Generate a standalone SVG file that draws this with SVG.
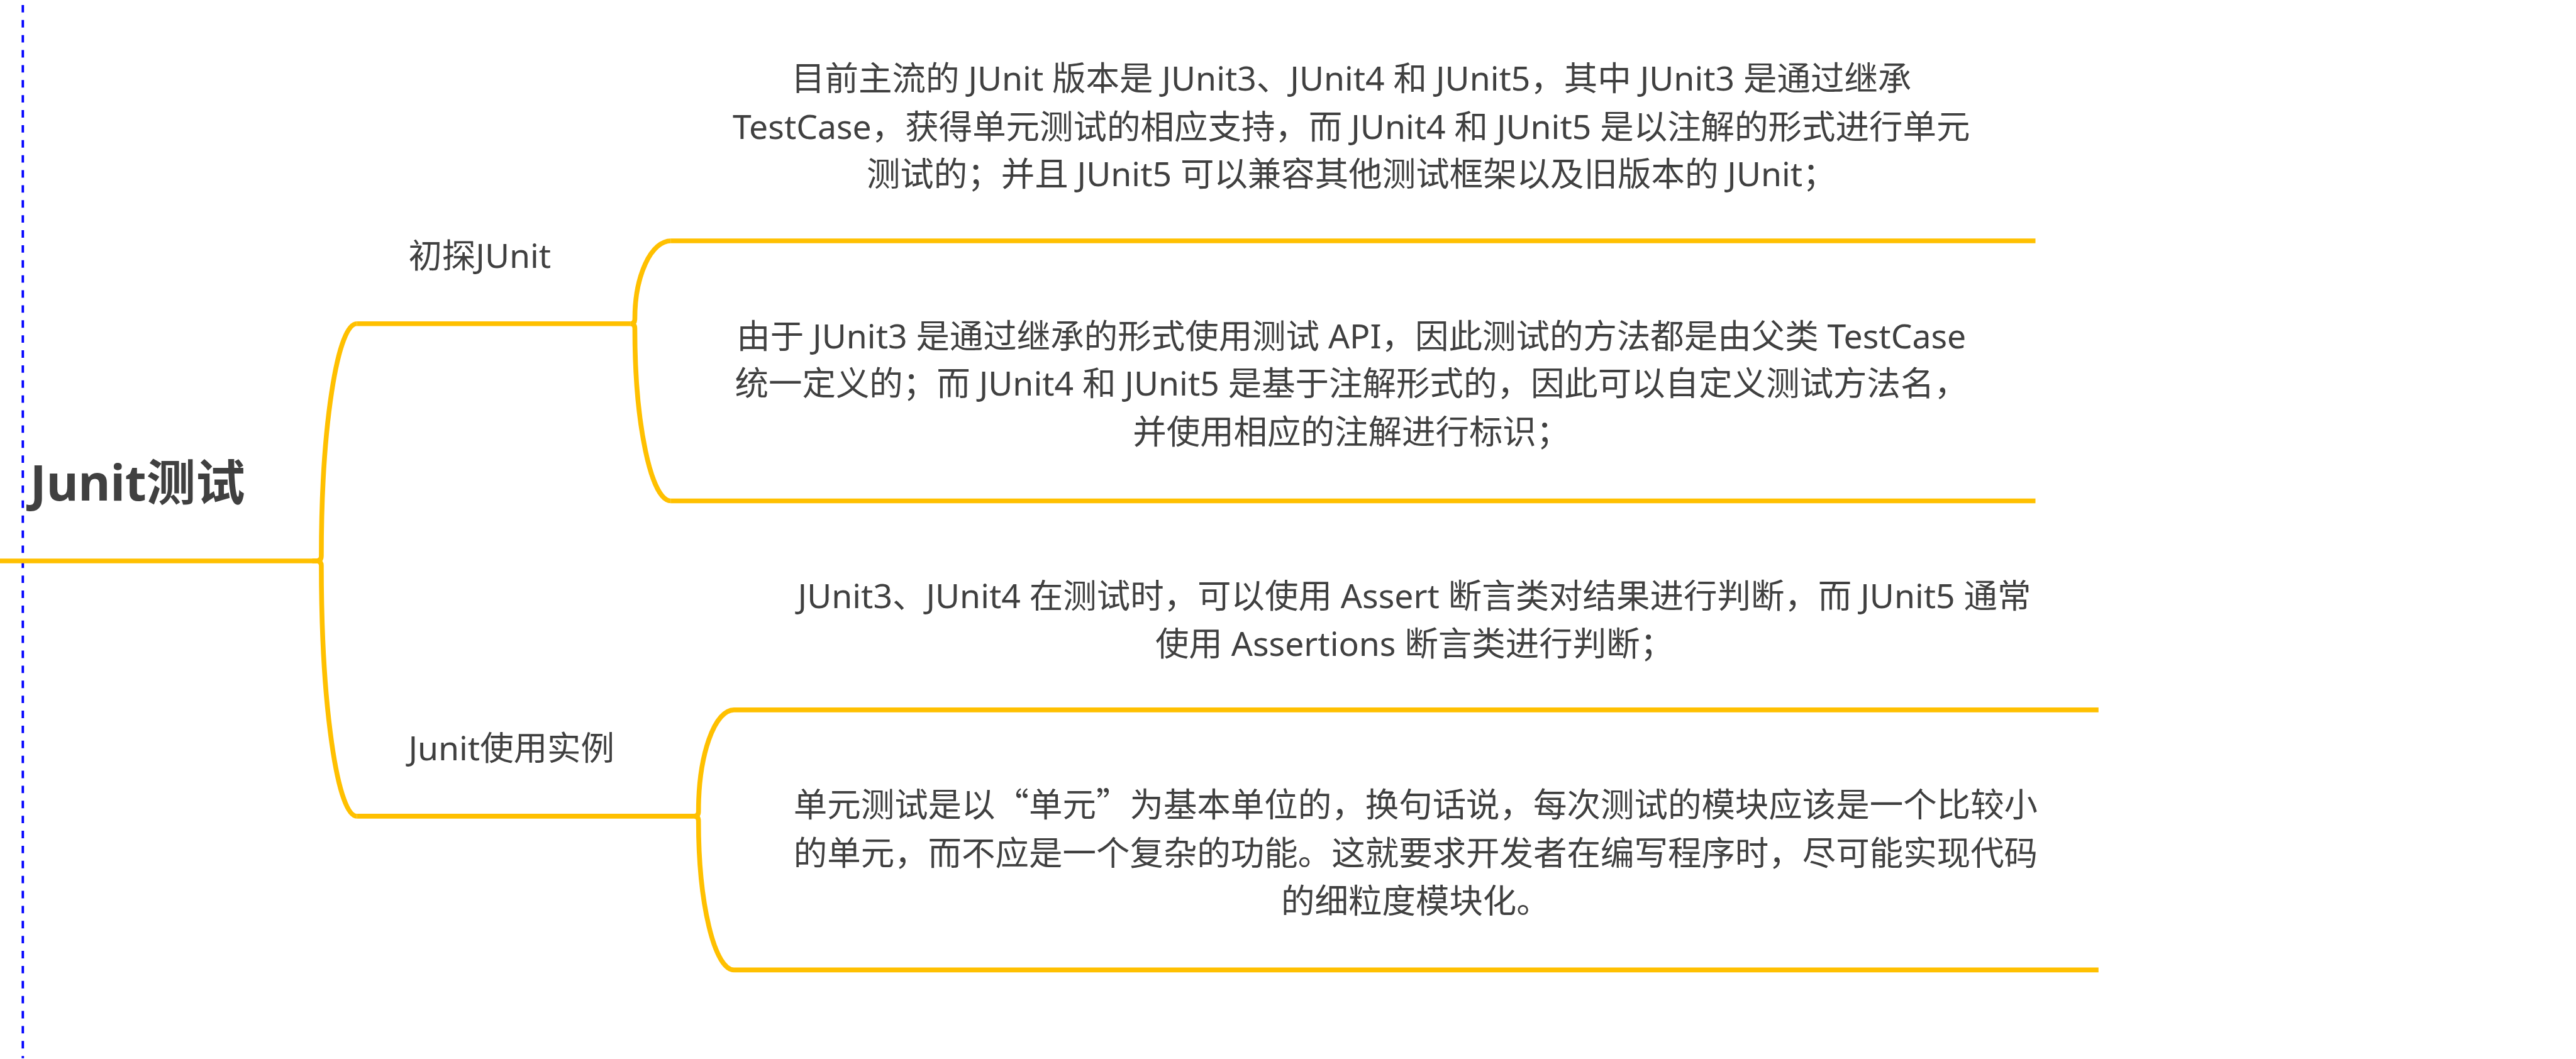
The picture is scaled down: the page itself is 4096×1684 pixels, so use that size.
<svg xmlns="http://www.w3.org/2000/svg" width="4096" height="1684" viewBox="0 0 4096 1684">
<style>
.t{font-family:"Noto Sans","Noto Sans CJK SC",sans-serif;font-size:56px;fill:#404040}
.c{text-anchor:middle}
.root{font-family:"Noto Sans","Noto Sans CJK SC",sans-serif;font-size:82px;font-weight:bold;fill:#404040}
.q{font-family:"Noto Sans CJK SC",sans-serif}
.ln{fill:none;stroke:#FFC000;stroke-width:8}
</style>
<rect width="4096" height="1684" fill="#ffffff"/>
<g transform="scale(0.955)">
<line x1="38" y1="0" x2="38" y2="1762" stroke="#0000FF" stroke-width="4" stroke-dasharray="12.5 12.5" stroke-dashoffset="16.7"/>
<g id="connectors" class="ln">
<path d="M0,934 H527"/>
<path d="M520,934 H527 Q535,934 535,926 A59,387 0 0 1 594,539"/>
<path d="M520,934 H527 Q535,934 535,942 A59,417 0 0 0 594,1359"/>
<path d="M1050,539 Q1057,539 1057,531 A60,130 0 0 1 1117,401"/>
<path d="M1050,539 Q1057,539 1057,547 A60,287 0 0 0 1117,834"/>
<path d="M1156,1359 Q1163,1359 1163,1351 A59,169 0 0 1 1222,1182"/>
<path d="M1156,1359 Q1163,1359 1163,1367 A59,248 0 0 0 1222,1615"/>
</g>
<g id="root">
<text class="root" x="50" y="834">Junit测试</text>
</g>
<g id="n-chutan">
<text class="t" x="680" y="446">初探JUnit</text>
<path class="ln" d="M594,539 H1050"/>
</g>
<g id="n-shili">
<text class="t" x="680" y="1266">Junit使用实例</text>
<path class="ln" d="M594,1359 H1156"/>
</g>
<g id="n-a">
<text class="t c" x="2250" y="151">目前主流的 JUnit 版本是 JUnit3、JUnit4 和 JUnit5，其中 JUnit3 是通过继承</text>
<text class="t c" x="2250" y="231">TestCase，获得单元测试的相应支持，而 JUnit4 和 JUnit5 是以注解的形式进行单元</text>
<text class="t c" x="2250" y="310">测试的；并且 JUnit5 可以兼容其他测试框架以及旧版本的 JUnit；</text>
<path class="ln" d="M1117,401 H3389"/>
</g>
<g id="n-b">
<text class="t c" x="2250" y="580">由于 JUnit3 是通过继承的形式使用测试 API，因此测试的方法都是由父类 TestCase</text>
<text class="t c" x="2250" y="659">统一定义的；而 JUnit4 和 JUnit5 是基于注解形式的，因此可以自定义测试方法名，</text>
<text class="t c" x="2250" y="739">并使用相应的注解进行标识；</text>
<path class="ln" d="M1117,834 H3389"/>
</g>
<g id="n-c">
<text class="t c" x="2355" y="1013">JUnit3、JUnit4 在测试时，可以使用 Assert 断言类对结果进行判断，而 JUnit5 通常</text>
<text class="t c" x="2355" y="1092">使用 Assertions 断言类进行判断；</text>
<path class="ln" d="M1222,1182 H3494"/>
</g>
<g id="n-d">
<text class="t c" x="2357" y="1360">单元测试是以<tspan class="q">“</tspan>单元<tspan class="q">”</tspan>为基本单位的，换句话说，每次测试的模块应该是一个比较小</text>
<text class="t c" x="2357" y="1441">的单元，而不应是一个复杂的功能。这就要求开发者在编写程序时，尽可能实现代码</text>
<text class="t c" x="2357" y="1520">的细粒度模块化。</text>
<path class="ln" d="M1222,1615 H3494"/>
</g>
</g>
</svg>
